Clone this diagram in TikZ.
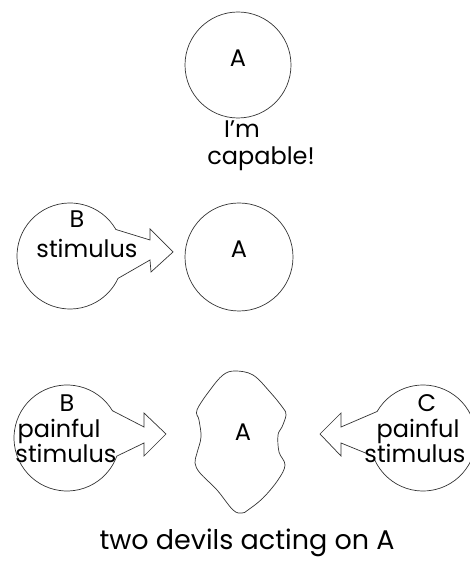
\documentclass[tikz,border=0pt]{standalone}
\usepackage{fontspec}
\setmainfont{Poppins}
\usetikzlibrary{calc}
\begin{document}
\begin{tikzpicture}[x=1pt,y=1pt,
  lbl/.style={anchor=base,inner sep=0pt,font=\fontsize{24}{26}\selectfont},
  outl/.style={draw=black!80,line width=0.7pt},
  circ/.style={outl,circle,minimum size=#1,inner sep=0pt}]
\useasboundingbox (0,0) rectangle (470,565);
\clip (0,0) rectangle (470,565);
% top
\node[circ=106pt] (A1) at (238,500) {};
\node[lbl] (A1t) at (238,498) {A};
\node[lbl] (im) at (242,427) {I'm};
\node[lbl] (cap) at (261,400) {capable!};
% middle
\node[circ=108pt] (A2) at (239,308) {};
\node[lbl] (A2t) at (239,307) {A};
\coordinate (B2c) at (70,309);
\draw[outl] ($(B2c)+(30:53)$) coordinate (B2top) arc[start angle=30,end angle=335,radius=53] coordinate (B2bot)
  -- (150,305) coordinate (B2sb) -- (151,293) -- (173,313) coordinate (B2tip) -- (150,336) -- (150,325) -- cycle;
\node[lbl] (B2t) at (77,337) {B};
\node[lbl] (B2s) at (87,307) {stimulus};
% bottom
\draw[outl] plot[smooth cycle,tension=0.6] coordinates {(235,194) (253,190) (270,173) (283,157) (286,150) (282,138) (278,130) (279,113) (285,100) (278,85) (263,67) (248,55) (242,52) (233,55) (217,75) (200,92) (195,102) (197,112) (201,128) (199,145) (197,155) (210,175) (223,190)};
\coordinate (A3) at (240,123);
\node[lbl] (A3t) at (243,124) {A};
\coordinate (B3c) at (67,127);
\draw[outl] ($(B3c)+(31:53)$) arc[start angle=31,end angle=340,radius=53]
  -- (144,122) -- (144,109) -- (166,131) coordinate (B3tip) -- (144,152) -- (144,138) -- cycle;
\node[lbl] (B3t) at (67,153) {B};
\node[lbl] (B3p) at (59,127) {painful};
\node[lbl] (B3s) at (66,102) {stimulus};
\coordinate (C3c) at (423,127);
\draw[outl] ($(C3c)+(150:53)$) arc[start angle=150,end angle=-160,radius=53]
  -- (341,122) -- (341,109) -- (320,131) coordinate (C3tip) -- (341,152) -- (341,138) -- cycle;
\node[lbl] (C3t) at (427,153) {C};
\node[lbl] (C3p) at (418,127) {painful};
\node[lbl] (C3s) at (415,102) {stimulus};
\node[lbl,font=\fontsize{27}{29}\selectfont] (cap2) at (247,15) {two devils acting on A};
\end{tikzpicture}
\end{document}
